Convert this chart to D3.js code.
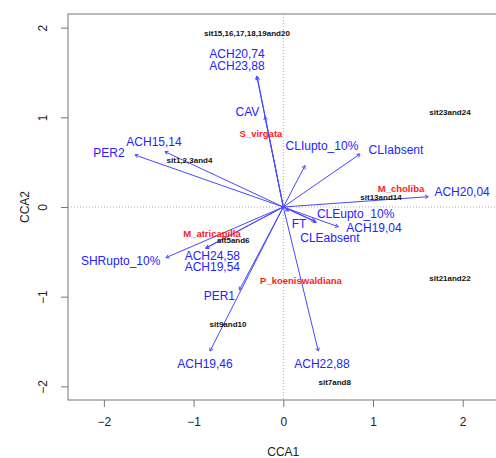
<!DOCTYPE html>
<html><head><meta charset="utf-8">
<script src="https://cdn.jsdelivr.net/npm/d3@7"></script>
<style>body{margin:0;background:#fff}svg{display:block}</style>
</head><body>
<script>
// Biplot arrows (environmental variables): tip coordinates
const arrowNames = ["ACH20,74","ACH23,88","CAV","ACH15,14","PER2","CLIupto_10%","CLIabsent","ACH20,04","CLEupto_10%","FT","ACH19,04","CLEabsent","ACH22,88","SHRupto_10%","ACH24,58","ACH19,54","PER1","ACH19,46"];
const arrowX = [-0.297,-0.290,-0.204,-1.319,-1.654,0.242,0.855,1.616,0.350,0.058,0.613,0.368,0.390,-1.308,-0.865,-0.860,-0.490,-0.817];
const arrowY = [1.461,1.450,1.007,0.617,0.580,0.461,0.591,0.115,-0.155,-0.045,-0.220,-0.171,-1.606,-0.565,-0.461,-0.455,-0.926,-1.606];
// label anchor positions for arrows
const arrowLabelX = [-0.516,-0.516,-0.399,-1.441,-1.943,0.431,1.256,1.993,0.806,0.175,1.011,0.520,0.431,-1.813,-0.791,-0.791,-0.713,-0.873];
const arrowLabelY = [1.703,1.572,1.056,0.728,0.605,0.680,0.636,0.164,-0.078,-0.193,-0.231,-0.342,-1.754,-0.602,-0.546,-0.666,-0.989,-1.754];
// Site scores
const siteNames = ["sit15,16,17,18,19and20","sit1,2,3and4","sit23and24","sit13and14","sit5and6","sit21and22","sit9and10","sit7and8"];
const siteX = [-0.405,-1.046,1.858,1.089,-0.557,1.858,-0.616,0.573];
const siteY = [1.935,0.524,1.052,0.103,-0.376,-0.795,-1.308,-1.959];
// Species scores
const speciesNames = ["S_virgata","M_choliba","M_atricapilla","P_koeniswaldiana"];
const speciesX = [-0.249,1.312,-0.795,0.197];
const speciesY = [0.822,0.209,-0.293,-0.825];
// Axis ticks
const xTicks = [-2,-1,0,1,2];
const yTicks = [-2,-1,0,1,2];

const W = 496, H = 458;
const L = 68, R = 496, T = 14, B = 400;
const svg = d3.select("body").append("svg").attr("width", W).attr("height", H)
  .style("font-family", "Liberation Sans, Arial, Helvetica, sans-serif");

const x = d3.scaleLinear().domain([-2.4, 2.371]).range([L, R]);
const y = d3.scaleLinear().domain([-2.152, 2.152]).range([B, T]);

// zero lines
svg.append("line").attr("x1", L).attr("x2", R).attr("y1", y(0)).attr("y2", y(0))
  .attr("stroke", "#aaa").attr("stroke-dasharray", "1,2").attr("stroke-width", 1);
svg.append("line").attr("x1", x(0)).attr("x2", x(0)).attr("y1", T).attr("y2", B)
  .attr("stroke", "#aaa").attr("stroke-dasharray", "1,2").attr("stroke-width", 1);

// box
svg.append("rect").attr("x", L).attr("y", T).attr("width", R - L + 5).attr("height", B - T)
  .attr("fill", "none").attr("stroke", "#777").attr("stroke-width", 1);

// x axis
const gx = svg.append("g").attr("transform", `translate(0,${B})`)
  .call(d3.axisBottom(x).tickValues(xTicks).tickSize(7).tickPadding(10)
    .tickFormat(d => d < 0 ? "\u2212" + Math.abs(d) : d));
gx.select(".domain").remove();
gx.selectAll("line").attr("stroke", "#777");
gx.selectAll("text").attr("font-size", 12).attr("fill", "#222").attr("font-family", null);

// y axis
const gy = svg.append("g").attr("transform", `translate(${L},0)`)
  .call(d3.axisLeft(y).tickValues(yTicks).tickSize(7).tickPadding(0)
    .tickFormat(d => d < 0 ? "\u2212" + Math.abs(d) : d));
gy.select(".domain").remove();
gy.selectAll("line").attr("stroke", "#777");
gy.selectAll("text").attr("font-size", 12).attr("fill", "#222").attr("font-family", null)
  .attr("text-anchor", "middle").attr("x", 0).attr("dy", null)
  .attr("transform", "translate(-25,0) rotate(-90)")
  .attr("dominant-baseline", "central");

// axis titles
svg.append("text").attr("x", x(0)).attr("y", 452).attr("text-anchor", "middle")
  .attr("dominant-baseline", "central").attr("font-size", 12).attr("fill", "#222").text("CCA1");
svg.append("text").attr("transform", `translate(25,${y(0)}) rotate(-90)`).attr("text-anchor", "middle")
  .attr("dominant-baseline", "central").attr("font-size", 12).attr("fill", "#222").text("CCA2");

// arrows
const blueLine = "#4848ff", blueText = "#2323ff";
const ga = svg.append("g");
arrowNames.forEach((n, i) => {
  const x0 = x(0), y0 = y(0), x1 = x(arrowX[i]), y1 = y(arrowY[i]);
  ga.append("line").attr("x1", x0).attr("y1", y0).attr("x2", x1).attr("y2", y1)
    .attr("stroke", blueLine).attr("stroke-width", 1);
  const ang = Math.atan2(y1 - y0, x1 - x0), len = 3.6, a = Math.PI / 6;
  const p = [[x1 - len * Math.cos(ang - a), y1 - len * Math.sin(ang - a)], [x1, y1],
             [x1 - len * Math.cos(ang + a), y1 - len * Math.sin(ang + a)]];
  ga.append("path").attr("d", d3.line()(p)).attr("fill", "none").attr("stroke", blueLine).attr("stroke-width", 1);
  ga.append("text").attr("x", x(arrowLabelX[i])).attr("y", y(arrowLabelY[i]))
    .attr("text-anchor", "middle").attr("dominant-baseline", "central")
    .attr("font-size", 12).attr("fill", blueText).text(n);
});

// sites
svg.append("g").selectAll("text").data(siteNames).join("text")
  .attr("x", (d, i) => x(siteX[i])).attr("y", (d, i) => y(siteY[i]))
  .attr("text-anchor", "middle").attr("dominant-baseline", "central")
  .attr("font-size", 8).attr("font-weight", "bold").attr("fill", "#111").text(d => d);

// species
svg.append("g").selectAll("text").data(speciesNames).join("text")
  .attr("x", (d, i) => x(speciesX[i])).attr("y", (d, i) => y(speciesY[i]))
  .attr("text-anchor", "middle").attr("dominant-baseline", "central")
  .attr("font-size", 9.5).attr("font-weight", "bold").attr("fill", "#ff1a1a").text(d => d);
</script>
</body></html>
